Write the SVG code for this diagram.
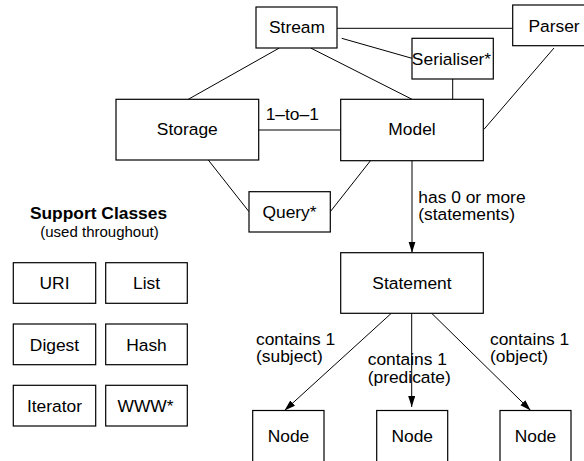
<svg xmlns="http://www.w3.org/2000/svg" width="584" height="461" viewBox="0 0 584 461">
<style>
.b{fill:#fff;stroke:#000;stroke-width:1.2}
.l{fill:none;stroke:#000;stroke-width:1}
text{font-family:"Liberation Sans",Arial,sans-serif;font-size:17.4px;fill:#000}
.c{text-anchor:middle}
.h{font-weight:bold}
.s{font-size:15px}
</style>
<defs>
<marker id="ah" markerUnits="userSpaceOnUse" markerWidth="12" markerHeight="8" refX="11" refY="3.5" orient="auto">
<path d="M0,0 L11,3.5 L0,7 z" fill="#000"/>
</marker>
</defs>
<rect width="584" height="461" fill="#fff"/>
<g id="connectors">
<line class="l" x1="337" y1="28.3" x2="512.7" y2="28.3"/>
<line class="l" x1="341.7" y1="38.3" x2="412" y2="58.3"/>
<line class="l" x1="310.7" y1="48" x2="412" y2="99.3"/>
<line class="l" x1="279.3" y1="48" x2="188.3" y2="99.3"/>
<line class="l" x1="452.7" y1="79" x2="452.7" y2="99.3"/>
<line class="l" x1="554" y1="48" x2="484" y2="129.3"/>
<line class="l" x1="258.7" y1="130" x2="340.7" y2="130"/>
<text x="265.7" y="120">1–to–1</text>
<line class="l" x1="208.3" y1="160" x2="249" y2="211.7"/>
<line class="l" x1="371" y1="160" x2="330.3" y2="211.7"/>
<line class="l" x1="412" y1="160.7" x2="412" y2="252.7" marker-end="url(#ah)"/>
<text x="418.3" y="202.7">has 0 or more</text>
<text x="418.3" y="220">(statements)</text>
<line class="l" x1="391.3" y1="313.3" x2="284.5" y2="410.5" marker-end="url(#ah)"/>
<line class="l" x1="411.7" y1="313.3" x2="411.7" y2="407" marker-end="url(#ah)"/>
<line class="l" x1="431.7" y1="313.3" x2="530.7" y2="410.5" marker-end="url(#ah)"/>
<text x="256" y="345">contains 1</text>
<text x="256" y="362">(subject)</text>
<text x="367.7" y="365">contains 1</text>
<text x="367.7" y="382.5">(predicate)</text>
<text x="490" y="345">contains 1</text>
<text x="490" y="362">(object)</text>
</g>
<g id="stream"><rect class="b" x="256" y="7" width="81" height="41"/><text class="c" x="297" y="33.3">Stream</text></g>
<g id="parser"><rect class="b" x="512.7" y="5" width="84" height="40.7"/><text class="c" x="554" y="31.7">Parser</text></g>
<g id="serialiser"><rect class="b" x="412" y="38.3" width="81.3" height="40.7"/><text class="c" x="451.5" y="65">Serialiser*</text></g>
<g id="storage"><rect class="b" x="116" y="99.3" width="142.7" height="60.7"/><text class="c" x="187.3" y="135">Storage</text></g>
<g id="model"><rect class="b" x="340.7" y="99.3" width="142.6" height="61.4"/><text class="c" x="412" y="135">Model</text></g>
<g id="query"><rect class="b" x="249" y="191.7" width="81.3" height="40.3"/><text class="c" x="289.5" y="217.5">Query*</text></g>
<g id="statement"><rect class="b" x="340.7" y="252.7" width="142.6" height="60.6"/><text class="c" x="412" y="289">Statement</text></g>
<g id="node1"><rect class="b" x="252.7" y="410.5" width="71.3" height="62"/><text class="c" x="288.5" y="441.7">Node</text></g>
<g id="node2"><rect class="b" x="376.7" y="410.5" width="71" height="62"/><text class="c" x="412.2" y="441.7">Node</text></g>
<g id="node3"><rect class="b" x="500" y="410.5" width="71" height="62"/><text class="c" x="535.5" y="441.7">Node</text></g>
<g id="support-title"><text class="c h" x="98.5" y="219.3">Support Classes</text><text class="c s" x="99.5" y="237">(used throughout)</text></g>
<g id="uri"><rect class="b" x="13.3" y="262.7" width="82.4" height="40.6"/><text class="c" x="54.5" y="289.3">URI</text></g>
<g id="list"><rect class="b" x="105.7" y="262.7" width="81.6" height="40.6"/><text class="c" x="146.5" y="289.3">List</text></g>
<g id="digest"><rect class="b" x="13.3" y="324" width="82.4" height="40.7"/><text class="c" x="54.5" y="350.6">Digest</text></g>
<g id="hash"><rect class="b" x="105.7" y="324" width="81.6" height="40.7"/><text class="c" x="146.5" y="350.6">Hash</text></g>
<g id="iterator"><rect class="b" x="13.3" y="385.3" width="82.4" height="40.7"/><text class="c" x="54.5" y="412">Iterator</text></g>
<g id="www"><rect class="b" x="105.7" y="385.3" width="81.6" height="40.7"/><text class="c" x="145.5" y="412">WWW*</text></g>
</svg>
